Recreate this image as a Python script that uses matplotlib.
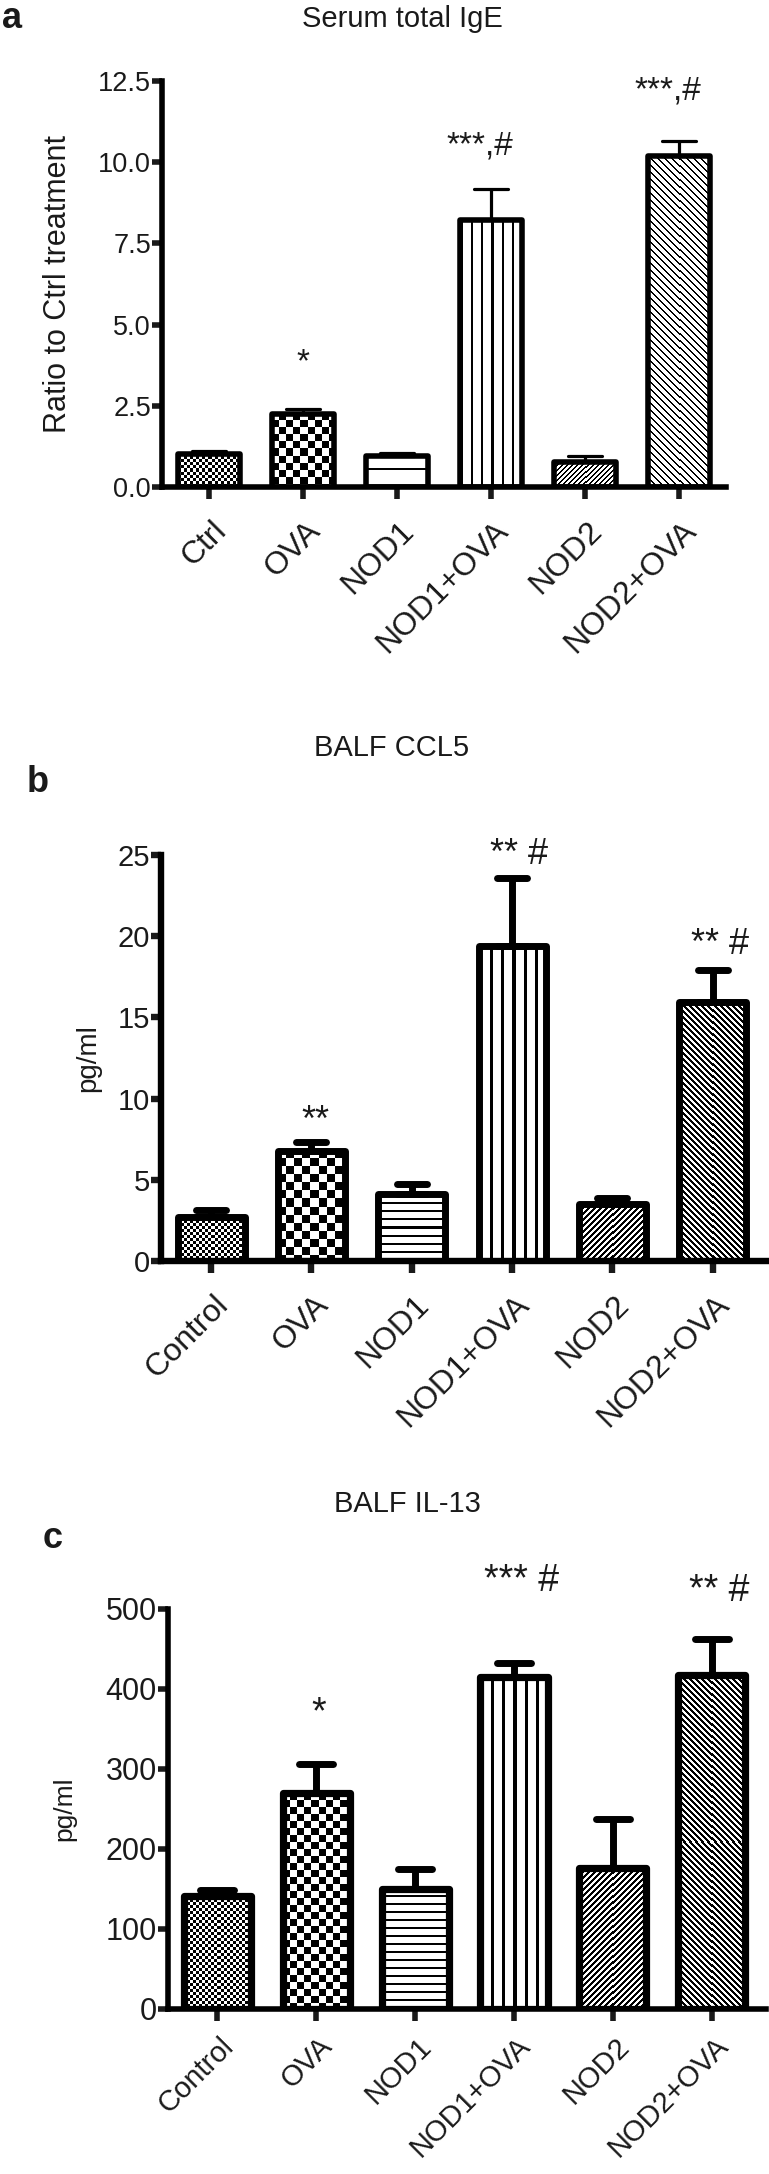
import numpy as np
import matplotlib
matplotlib.use("Agg")
import matplotlib.pyplot as plt
from matplotlib.markers import MarkerStyle
from matplotlib.transforms import ScaledTranslation

plt.rcParams['font.family'] = ['Liberation Sans', 'DejaVu Sans']

# ---------------- data ----------------
ige_groups = ['Ctrl', 'OVA', 'NOD1', 'NOD1+OVA', 'NOD2', 'NOD2+OVA']
ige_mean = [1.02, 2.26, 0.95, 8.22, 0.76, 10.18]
ige_sem = [0.08, 0.14, 0.09, 0.95, 0.20, 0.47]
ige_sig = ['', '*', '', '***,#', '', '***,#']
ige_sig_y = [0, 3.84, 0, 10.5, 0, 12.2]
ige_yticks = [0.0, 2.5, 5.0, 7.5, 10.0, 12.5]
ige_yticklabels = ['0.0', '2.5', '5.0', '7.5', '10.0', '12.5']

ccl5_groups = ['Control', 'OVA', 'NOD1', 'NOD1+OVA', 'NOD2', 'NOD2+OVA']
ccl5_mean = [2.69, 6.80, 4.13, 19.42, 3.48, 15.94]
ccl5_sem = [0.42, 0.50, 0.63, 4.16, 0.42, 1.98]
ccl5_sig = ['', '**', '', '** #', '', '** #']
ccl5_sig_y = [0, 8.6, 0, 25.0, 0, 19.5]
ccl5_yticks = [0, 5, 10, 15, 20, 25]
ccl5_yticklabels = ['0', '5', '10', '15', '20', '25']

il13_groups = ['Control', 'OVA', 'NOD1', 'NOD1+OVA', 'NOD2', 'NOD2+OVA']
il13_mean = [141, 270, 150, 415, 176, 418]
il13_sem = [8, 36, 25, 17, 61, 44]
il13_sig = ['', '*', '', '*** #', '', '** #']
il13_sig_y = [0, 370, 0, 535, 0, 523]
il13_yticks = [0, 100, 200, 300, 400, 500]
il13_yticklabels = ['0', '100', '200', '300', '400', '500']

pattern_kinds = ['fine', 'coarse', 'hlines', 'vlines', 'fdiag', 'bdiag']

TXT = '#1a1a1a'
W, H = 769, 2174
fig = plt.figure(figsize=(W / 100, H / 100), dpi=100)


def pattern_array(kind, hpx, wpx, st):
    i, j = np.mgrid[0:hpx, 0:wpx]
    if kind == 'fine':
        c = st['fine']
        return ((i // c + j // c) % 2).astype(float)
    if kind == 'coarse':
        c = st['coarse']
        return ((i // c + j // c) % 2).astype(float)
    if kind == 'hlines':
        p, t = st['hl']
        return (((hpx - 1 - i) % p) < t).astype(float)
    if kind == 'vlines':
        p, t = st['vl']
        off = (wpx % p) // 2
        return (((j - off) % p) < t).astype(float)
    if kind == 'fdiag':
        p, t = st['d1']
        return (((i + j) % p) < t).astype(float)
    p, t = st['d2']
    return (((j - i) % p) < t).astype(float)


def px_rect(rect):
    l, r, t, b = rect
    return [l / W, 1 - b / H, (r - l) / W, (b - t) / H]


def panel(rect, groups, mean, sem, sig, sig_y, yticks, yticklabels, ylabel,
          st):
    ax = fig.add_axes(px_rect(rect))
    n = len(groups)
    x = np.arange(n)
    xlim = st['xlim']
    ylim = (yticks[0], yticks[-1])
    ax.set_xlim(*xlim)
    ax.set_ylim(*ylim)
    w = st['width']
    for k in range(n):
        x0, x1 = x[k] - w / 2, x[k] + w / 2
        p0 = ax.transData.transform((x0, 0))
        p1 = ax.transData.transform((x1, mean[k]))
        wpx = int(round(abs(p1[0] - p0[0])))
        hpx = int(round(abs(p1[1] - p0[1])))
        if wpx > 0 and hpx > 0:
            arr = pattern_array(pattern_kinds[k], hpx, wpx, st)
            ax.imshow(arr, cmap='gray_r', vmin=0, vmax=1,
                      extent=(x0, x1, 0, mean[k]), aspect='auto',
                      interpolation='nearest', zorder=2)
    ax.bar(x, mean, width=w, fill=False, edgecolor='black',
           linewidth=st['lw'], zorder=3, joinstyle='round')
    eb = ax.errorbar(x, mean, yerr=[np.zeros(n), sem], fmt='none',
                     ecolor='black', elinewidth=st['elw'], capsize=st['cap'],
                     capthick=st['elw'], zorder=2.5)
    for cl in eb[1]:
        cl.set_marker(MarkerStyle('_', capstyle='round'))
        cl.set_markersize(2 * st['cap'])
    for k in range(n):
        if sig[k]:
            dx = st['sig_dx'] if len(sig[k]) > 2 else st['sig_dx1']
            ax.text(x[k] + dx, sig_y[k], sig[k], ha='center', va='center',
                    fontsize=st['sigfs'], color=TXT, clip_on=False)
    ax.set_xlim(*xlim)
    ax.set_ylim(*ylim)
    for s in ['top', 'right']:
        ax.spines[s].set_visible(False)
    for s in ['left', 'bottom']:
        ax.spines[s].set_linewidth(st['slw'])
    ax.set_yticks(yticks)
    ax.set_yticklabels(yticklabels)
    ax.set_xticks(x)
    ax.set_xticklabels(groups, rotation=45, ha='right', va='top',
                       rotation_mode='anchor')
    ax.tick_params(axis='y', length=7, width=st['slw'], pad=1,
                   labelsize=st['yfs'], colors=TXT)
    ax.tick_params(axis='x', length=8.5, width=st['slw'],
                   pad=st['xpad'], labelsize=st['xfs'], colors=TXT)
    off = ScaledTranslation(st['xdx'] / 100, 0, fig.dpi_scale_trans)
    for lab in ax.get_xticklabels():
        lab.set_transform(lab.get_transform() + off)
    ax.set_ylabel(ylabel, fontsize=st['ylfs'], color=TXT, va='center')
    ax.yaxis.set_label_coords(st['ylx'], 0.5)
    return ax


style_a = dict(xlim=(-0.5, 5.5), width=0.66, lw=4.0, slw=4.0, elw=2.3,
               cap=12, fine=3, coarse=7, hl=(17, 2), vl=(10, 2), d1=(5, 2),
               d2=(7, 2), sigfs=24, sig_dx=-0.12, sig_dx1=0.0, yfs=19.5,
               xfs=23, xpad=12, xdx=2, ylfs=22, ylx=-0.184)
style_b = dict(xlim=(-0.5, 5.53), width=0.67, lw=5.0, slw=4.6, elw=5.0,
               cap=11, fine=3, coarse=8, hl=(8, 2), vl=(11, 3), d1=(6, 3),
               d2=(6, 3), sigfs=26, sig_dx=0.07, sig_dx1=0.04, yfs=21,
               xfs=23, xpad=12, xdx=2, ylfs=20, ylx=-0.121)
style_c = dict(xlim=(-0.5, 5.55), width=0.68, lw=5.2, slw=4.0, elw=5.0,
               cap=12, fine=3, coarse=7, hl=(8, 2), vl=(11, 3), d1=(6, 3),
               d2=(6, 3), sigfs=27, sig_dx=0.08, sig_dx1=0.02, yfs=22,
               xfs=21, xpad=8, xdx=2, ylfs=19, ylx=-0.174)

panel((162, 726, 81, 487), ige_groups, ige_mean, ige_sem, ige_sig, ige_sig_y,
      ige_yticks, ige_yticklabels, 'Ratio to Ctrl treatment', style_a)
panel((161, 766, 855, 1261), ccl5_groups, ccl5_mean, ccl5_sem, ccl5_sig,
      ccl5_sig_y, ccl5_yticks, ccl5_yticklabels, 'pg/ml', style_b)
panel((168, 766, 1609, 2009), il13_groups, il13_mean, il13_sem, il13_sig,
      il13_sig_y, il13_yticks, il13_yticklabels, 'pg/ml', style_c)

# titles and panel letters
for txt, xc, yc in [('Serum total IgE', 402, 19), ('BALF CCL5', 392, 748),
                    ('BALF IL-13', 407, 1504)]:
    fig.text(xc / W, 1 - yc / H, txt, ha='center', va='center', fontsize=21,
             color=TXT)
for txt, xl, yc in [('a', 2, 19), ('b', 27, 783), ('c', 43, 1538)]:
    fig.text(xl / W, 1 - yc / H, txt, ha='left', va='center', fontsize=26,
             fontweight='bold', color=TXT)

fig.savefig('out.png', dpi=100, facecolor='white')
